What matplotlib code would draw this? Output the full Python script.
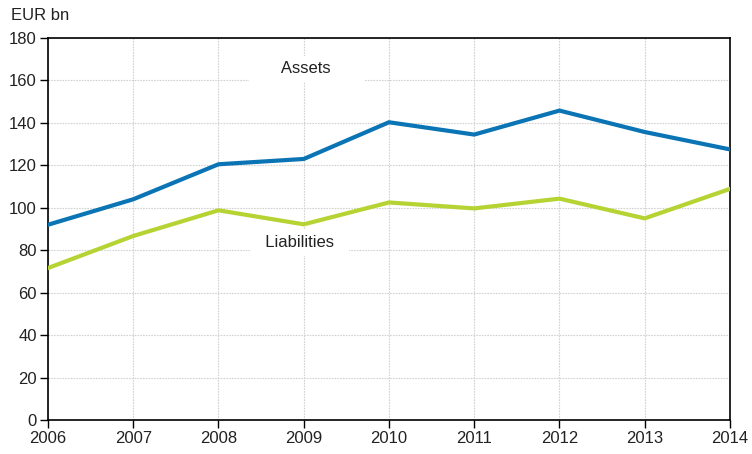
import matplotlib.pyplot as plt
from matplotlib import font_manager

years = [2006, 2007, 2008, 2009, 2010, 2011, 2012, 2013, 2014]
assets = [92, 104, 120.5, 123, 140.3, 134.5, 145.8, 135.7, 127.5]
liabilities = [71.6, 86.7, 98.8, 92.2, 102.5, 99.7, 104.3, 95, 108.9]

names = {f.name for f in font_manager.fontManager.ttflist}
fam = "Liberation Sans Narrow" if "Liberation Sans Narrow" in names else "Liberation Sans"
plt.rcParams["font.family"] = [fam, "DejaVu Sans"]
plt.rcParams["font.size"] = 12
plt.rcParams["text.color"] = "#222222"

fig = plt.figure(figsize=(7.52, 4.54), dpi=100)
ax = fig.add_axes([0.0638, 0.0749, 0.9069, 0.8414])

ax.plot(years, assets, color="#0a74b4", lw=3, solid_joinstyle="miter", zorder=3)
ax.plot(years, liabilities, color="#b6d334", lw=3, solid_joinstyle="miter", zorder=3)

ax.set_xlim(2006, 2014)
ax.set_ylim(0, 180)
ax.set_xticks(years)
ax.set_yticks(range(0, 181, 20))
ax.grid(True, color="#d2d2d2", linestyle=(0, (1.5, 1)), lw=0.8)
ax.set_axisbelow(True)
for s in ax.spines.values():
    s.set_color("black")
    s.set_linewidth(1.2)
ax.tick_params(direction="out", length=6, width=1, pad=2, labelsize=12,
               labelcolor="#222222")

bbox = dict(facecolor="white", edgecolor="none", pad=4)
ax.text(2009.03, 165.5, "      Assets      ", ha="center", va="center", bbox=bbox, zorder=4)
ax.text(2008.95, 83.5, "  Liabilities  ", ha="center", va="center", bbox=bbox, zorder=4)

fig.text(0.014, 0.965, "EUR bn", ha="left", va="center", fontsize=12)

fig.savefig("out.png", dpi=100)
